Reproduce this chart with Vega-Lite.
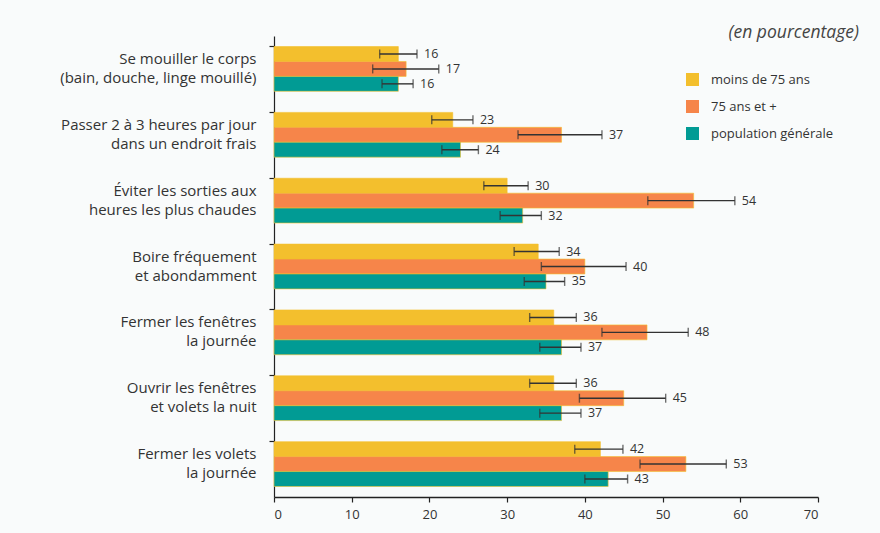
{
  "$schema": "https://vega.github.io/schema/vega-lite/v6.json",
  "width": 544,
  "height": 461,
  "autosize": "none",
  "padding": {"left": 274, "top": 36, "right": 62, "bottom": 36},
  "background": "#f9fbfb",
  "title": {"text": "(en pourcentage)", "anchor": "end", "fontStyle": "italic", "fontWeight": "normal", "fontSize": 17.5, "color": "#444", "font": "Open Sans", "dx": 25, "offset": -23, "baseline": "bottom"},
  "data": {"values": [
    {"cat": "Se mouiller le corps|(bain, douche, linge mouillé)", "grp": "moins de 75 ans", "v": 16, "lo": 13.6, "hi": 18.4},
    {"cat": "Se mouiller le corps|(bain, douche, linge mouillé)", "grp": "75 ans et +", "v": 17, "lo": 12.7, "hi": 21.2},
    {"cat": "Se mouiller le corps|(bain, douche, linge mouillé)", "grp": "population générale", "v": 16, "lo": 13.9, "hi": 17.9},
    {"cat": "Passer 2 à 3 heures par jour|dans un endroit frais ", "grp": "moins de 75 ans", "v": 23, "lo": 20.3, "hi": 25.6},
    {"cat": "Passer 2 à 3 heures par jour|dans un endroit frais ", "grp": "75 ans et +", "v": 37, "lo": 31.4, "hi": 42.2},
    {"cat": "Passer 2 à 3 heures par jour|dans un endroit frais ", "grp": "population générale", "v": 24, "lo": 21.6, "hi": 26.3},
    {"cat": "Éviter les sorties aux|heures les plus chaudes", "grp": "moins de 75 ans", "v": 30, "lo": 27.0, "hi": 32.7},
    {"cat": "Éviter les sorties aux|heures les plus chaudes", "grp": "75 ans et +", "v": 54, "lo": 48.1, "hi": 59.3},
    {"cat": "Éviter les sorties aux|heures les plus chaudes", "grp": "population générale", "v": 32, "lo": 29.1, "hi": 34.4},
    {"cat": "Boire fréquement|et abondamment", "grp": "moins de 75 ans", "v": 34, "lo": 30.9, "hi": 36.7},
    {"cat": "Boire fréquement|et abondamment", "grp": "75 ans et +", "v": 40, "lo": 34.4, "hi": 45.3},
    {"cat": "Boire fréquement|et abondamment", "grp": "population générale", "v": 35, "lo": 32.2, "hi": 37.4},
    {"cat": "Fermer les fenêtres|la journée", "grp": "moins de 75 ans", "v": 36, "lo": 32.9, "hi": 38.9},
    {"cat": "Fermer les fenêtres|la journée", "grp": "75 ans et +", "v": 48, "lo": 42.2, "hi": 53.3},
    {"cat": "Fermer les fenêtres|la journée", "grp": "population générale", "v": 37, "lo": 34.2, "hi": 39.5},
    {"cat": "Ouvrir les fenêtres|et volets la nuit", "grp": "moins de 75 ans", "v": 36, "lo": 32.9, "hi": 38.9},
    {"cat": "Ouvrir les fenêtres|et volets la nuit", "grp": "75 ans et +", "v": 45, "lo": 39.3, "hi": 50.4},
    {"cat": "Ouvrir les fenêtres|et volets la nuit", "grp": "population générale", "v": 37, "lo": 34.2, "hi": 39.5},
    {"cat": "Fermer les volets|la journée", "grp": "moins de 75 ans", "v": 42, "lo": 38.7, "hi": 44.9},
    {"cat": "Fermer les volets|la journée", "grp": "75 ans et +", "v": 53, "lo": 47.1, "hi": 58.2},
    {"cat": "Fermer les volets|la journée", "grp": "population générale", "v": 43, "lo": 40.0, "hi": 45.5}
  ]},
  "encoding": {
    "y": {"field": "cat", "type": "nominal", "sort": null,
      "scale": {"paddingInner": 0.32, "paddingOuter": 0.16},
      "axis": {"title": null, "labelExpr": "split(datum.label, '|')", "labelFont": "Open Sans", "labelFontSize": 15, "labelColor": "#333", "labelLineHeight": 19, "labelPadding": 13, "labelLimit": 270, "labelOffset": -10, "bandPosition": 0, "tickSize": 5, "tickColor": "#222", "domainColor": "#222", "domainWidth": 1.2, "tickWidth": 1.2}},
    "yOffset": {"field": "grp", "type": "nominal", "sort": ["moins de 75 ans", "75 ans et +", "population générale"]}
  },
  "layer": [
    {
      "mark": {"type": "bar", "stroke": "#f3c02e", "strokeWidth": 0.6},
      "encoding": {
        "x": {"field": "v", "type": "quantitative", "scale": {"domain": [0, 70]},
          "axis": {"title": null, "values": [0, 10, 20, 30, 40, 50, 60, 70], "grid": false, "labelFont": "Open Sans", "labelFontSize": 13, "labelColor": "#333", "tickSize": 5, "tickColor": "#222", "domainColor": "#222", "domainWidth": 1.5, "tickWidth": 1.2, "labelPadding": 6}},
        "color": {"field": "grp", "type": "nominal", "sort": ["moins de 75 ans", "75 ans et +", "population générale"],
          "scale": {"domain": ["moins de 75 ans", "75 ans et +", "population générale"], "range": ["#f3bf2d", "#f6854a", "#019b94"]},
          "legend": {"title": null, "orient": "none", "legendX": 412, "legendY": 37, "symbolType": "square", "symbolSize": 169, "symbolStrokeWidth": 0, "labelFont": "Open Sans", "labelFontSize": 13, "labelColor": "#333", "rowPadding": 13, "labelOffset": 12}}
      }
    },
    {
      "mark": {"type": "rule", "color": "#333", "strokeWidth": 1.4},
      "encoding": {"x": {"field": "lo", "type": "quantitative"}, "x2": {"field": "hi"}}
    },
    {
      "mark": {"type": "tick", "color": "#333", "thickness": 1.4, "size": 9, "orient": "vertical"},
      "encoding": {"x": {"field": "lo", "type": "quantitative"}}
    },
    {
      "mark": {"type": "tick", "color": "#333", "thickness": 1.4, "size": 9, "orient": "vertical"},
      "encoding": {"x": {"field": "hi", "type": "quantitative"}}
    },
    {
      "mark": {"type": "text", "align": "left", "dx": 7, "font": "Open Sans", "fontSize": 12.5, "color": "#333"},
      "encoding": {"x": {"field": "hi", "type": "quantitative"}, "text": {"field": "v", "type": "quantitative"}}
    }
  ],
  "config": {"view": {"stroke": null}}
}
